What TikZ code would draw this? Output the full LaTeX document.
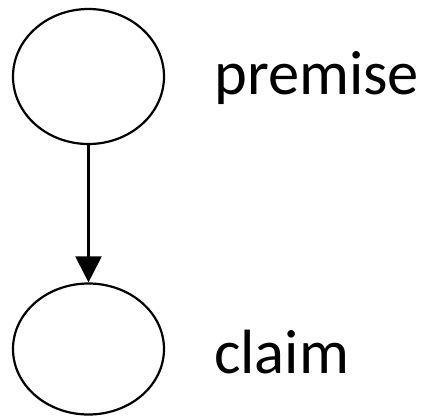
\documentclass[tikz,border=0pt]{standalone}
\usepackage{fontspec}
\setmainfont{Carlito}
\usetikzlibrary{shapes.geometric,arrows.meta}
\begin{document}
\begin{tikzpicture}[x=1pt,y=-1pt,
  state/.style={draw=black,line width=2.2pt,ellipse,inner sep=0pt,
    minimum width=151pt,minimum height=#1},
  caption/.style={anchor=base west,inner sep=0pt,font=\fontsize{62.5}{75}\selectfont},
  link/.style={line width=2.2pt,-{Triangle[width=26pt,length=26pt]}}]
  \useasboundingbox (0,0) rectangle (428,416);
  \node[state=135pt] (premise) at (88.5,76.5) {};
  \node[state=131pt] (claim) at (88.5,349) {};
  \node[caption] (premisetext) at (214,94) {premise};
  \node[caption] (claimtext) at (214,373) {claim};
  \draw[link] (premise.south) -- (claim.north);
\end{tikzpicture}
\end{document}
